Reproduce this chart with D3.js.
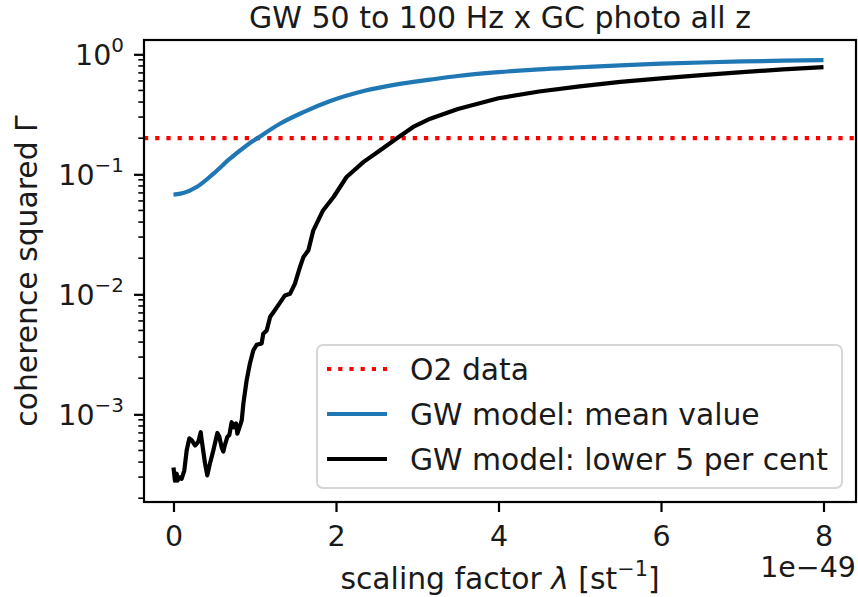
<!DOCTYPE html>
<html>
<head>
<meta charset="utf-8">
<script src="https://cdn.jsdelivr.net/npm/d3@7"></script>
<style>
    body { margin: 0; background: #fff; }
    #chart { width: 858px; height: 597px; }
    text { font-family: "DejaVu Sans", sans-serif; fill: #1a1a1a; }
</style>
</head>
<body>
<div id="chart"></div>
<script>
// values (lambda in units of 1e-49 st^-1)
let meanLambda = [0, 0.12, 0.285, 0.49, 0.695, 0.9, 1.065, 1.31, 1.6, 1.93, 2.34, 2.75, 3.16, 3.5, 4.0, 4.5, 5.0, 5.5, 6.0, 6.5, 7.0, 7.5, 8.0]
let meanGamma = [0.0677, 0.0698, 0.0784, 0.101, 0.135, 0.174, 0.207, 0.264, 0.330, 0.408, 0.494, 0.562, 0.615, 0.66, 0.71, 0.75, 0.78, 0.81, 0.835, 0.855, 0.872, 0.885, 0.896]

let lowLambda = [0, 0.018, 0.04, 0.05, 0.07, 0.10, 0.133, 0.162, 0.195, 0.224, 0.265, 0.305, 0.335, 0.347, 0.388, 0.416, 0.449, 0.49, 0.54, 0.564, 0.593, 0.613, 0.634, 0.663, 0.687, 0.716, 0.74, 0.77, 0.786, 0.82, 0.84, 0.86, 0.90, 0.94, 0.982, 1.024, 1.085, 1.105, 1.147, 1.19, 1.23, 1.33, 1.372, 1.434, 1.495, 1.557, 1.60, 1.66, 1.72, 1.84, 1.97, 2.13, 2.34, 2.54, 2.75, 2.95, 3.16, 3.5, 4.0, 4.5, 5.0, 5.5, 6.0, 6.5, 7.0, 7.5, 8.0]
let lowGamma = [0.00036, 0.00028, 0.00032, 0.00028, 0.00030, 0.00029, 0.00034, 0.00050, 0.00063, 0.00061, 0.00055, 0.00059, 0.00071, 0.00061, 0.00039, 0.00031, 0.00039, 0.00050, 0.00070, 0.00065, 0.00053, 0.00049, 0.00056, 0.00065, 0.00067, 0.00086, 0.00078, 0.00084, 0.00069, 0.00081, 0.00089, 0.00123, 0.00192, 0.00264, 0.0034, 0.0038, 0.0039, 0.0047, 0.0050, 0.0065, 0.0071, 0.0089, 0.0098, 0.0101, 0.0123, 0.0169, 0.0205, 0.0233, 0.034, 0.050, 0.0647, 0.095, 0.127, 0.158, 0.200, 0.248, 0.291, 0.35, 0.43, 0.49, 0.54, 0.59, 0.63, 0.67, 0.71, 0.75, 0.783]

let o2Level = 0.2

let xTicks = [0, 2, 4, 6, 8]
let yTicks = [1, 0.1, 0.01, 0.001]
let yTickExp = ["0", "\u22121", "\u22122", "\u22123"]

let legendLabels = ["O2 data", "GW model: mean value", "GW model: lower 5 per cent"]

let margin = {top: 40, right: 2, bottom: 95, left: 144}
let width = 858 - margin.left - margin.right
let height = 597 - margin.top - margin.bottom
let fs = 29.8
let tickFs = 28.5

let svg = d3.select("#chart").append("svg")
    .attr("width", 858)
    .attr("height", 597)
    .append("g")
    .attr("transform", `translate(${margin.left}, ${margin.top})`)

let x = d3.scaleLinear().domain([-0.363, 8.4]).range([0, width])
let y = d3.scaleLog().domain([1.86e-4, 1.316]).range([height, 0])

// x axis
let xAxis = d3.axisBottom(x).tickValues(xTicks).tickFormat(d3.format("d"))
    .tickSizeInner(10).tickSizeOuter(0).tickPadding(7)
let gx = svg.append("g").attr("transform", `translate(0, ${height})`).call(xAxis)
gx.select(".domain").remove()
gx.selectAll("line").attr("stroke", "#000").attr("stroke-width", 2.2)
gx.selectAll("text").attr("font-size", tickFs).attr("fill", "#1a1a1a").attr("dy", "0.95em")

// y axis, minor ticks first
let minor = []
for (let e = -4; e <= 0; e++) {
    for (let m = 2; m <= 9; m++) {
        let v = m * Math.pow(10, e)
        if (v >= y.domain()[0] && v <= y.domain()[1]) minor.push(v)
    }
}
svg.append("g").selectAll("line").data(minor).enter().append("line")
    .attr("x1", -5.7).attr("x2", 0)
    .attr("y1", d => y(d)).attr("y2", d => y(d))
    .attr("stroke", "#000").attr("stroke-width", 1.6)

let yAxis = d3.axisLeft(y).tickValues(yTicks).tickFormat("")
    .tickSizeInner(10).tickSizeOuter(0)
let gy = svg.append("g").call(yAxis)
gy.select(".domain").remove()
gy.selectAll("line").attr("stroke", "#000").attr("stroke-width", 2.2)

let yLab = svg.append("g").selectAll("text").data(yTicks).enter().append("text")
    .attr("x", -20)
    .attr("y", d => y(d))
    .attr("dy", "0.36em")
    .attr("text-anchor", "end")
    .attr("font-size", tickFs)
yLab.append("tspan").text("10")
yLab.append("tspan").text((d, i) => yTickExp[i])
    .attr("font-size", tickFs * 0.7)
    .attr("dy", "-0.62em")

// lines
let lineGen = d3.line().x(d => x(d[0])).y(d => y(d[1]))

svg.append("line")
    .attr("x1", 0).attr("x2", width)
    .attr("y1", y(o2Level)).attr("y2", y(o2Level))
    .attr("stroke", "#ff0000").attr("stroke-width", 4.2)
    .attr("stroke-dasharray", "4.2 7")

svg.append("path")
    .datum(d3.zip(meanLambda, meanGamma))
    .attr("d", lineGen.curve(d3.curveMonotoneX))
    .attr("fill", "none").attr("stroke", "#1f77b4").attr("stroke-width", 4.2)

svg.append("path")
    .datum(d3.zip(lowLambda, lowGamma))
    .attr("d", d3.line().x(d => x(d[0])).y(d => y(d[1])))
    .attr("fill", "none").attr("stroke", "#000").attr("stroke-width", 4.2)
    .attr("stroke-linejoin", "round")

// frame
svg.append("rect")
    .attr("width", width).attr("height", height)
    .attr("fill", "none").attr("stroke", "#000").attr("stroke-width", 2.2)

// legend
let lg = svg.append("g").attr("transform", `translate(${317 - margin.left}, ${345 - margin.top})`)
lg.append("rect")
    .attr("width", 525).attr("height", 143)
    .attr("rx", 6).attr("ry", 6)
    .attr("fill", "rgba(255,255,255,0.8)")
    .attr("stroke", "#d6d6d6").attr("stroke-width", 2)
let legendStyle = [
    {stroke: "#ff0000", dash: "4.2 7"},
    {stroke: "#1f77b4", dash: null},
    {stroke: "#000", dash: null}
]
legendLabels.forEach(function (label, i) {
    let cy = 24 + i * 45
    lg.append("line")
        .attr("x1", 10).attr("x2", 70)
        .attr("y1", cy).attr("y2", cy)
        .attr("stroke", legendStyle[i].stroke)
        .attr("stroke-width", 4.2)
        .attr("stroke-dasharray", legendStyle[i].dash)
    lg.append("text")
        .attr("x", 93).attr("y", cy).attr("dy", "0.36em")
        .attr("font-size", fs)
        .text(label)
})

// title and labels
svg.append("text")
    .attr("x", width / 2).attr("y", -12)
    .attr("text-anchor", "middle")
    .attr("font-size", 30)
    .text("GW 50 to 100 Hz x GC photo all z")

let xl = svg.append("text")
    .attr("x", width / 2).attr("y", height + 87)
    .attr("text-anchor", "middle")
    .attr("font-size", fs)
xl.append("tspan").text("scaling factor ")
xl.append("tspan").attr("font-style", "italic").text("\u03bb")
xl.append("tspan").text(" [st")
xl.append("tspan").text("\u22121").attr("font-size", fs * 0.7).attr("dy", "-0.62em")
xl.append("tspan").text("]").attr("dy", "0.43em")

let off = svg.append("text")
    .attr("x", width).attr("y", height + 75)
    .attr("text-anchor", "end")
    .attr("font-size", tickFs)
    .text("1e\u221249")

svg.append("text")
    .attr("transform", `translate(${37 - margin.left}, ${height / 2}) rotate(-90)`)
    .attr("text-anchor", "middle")
    .attr("font-size", fs)
    .text("coherence squared \u0393")
</script>
</body>
</html>
